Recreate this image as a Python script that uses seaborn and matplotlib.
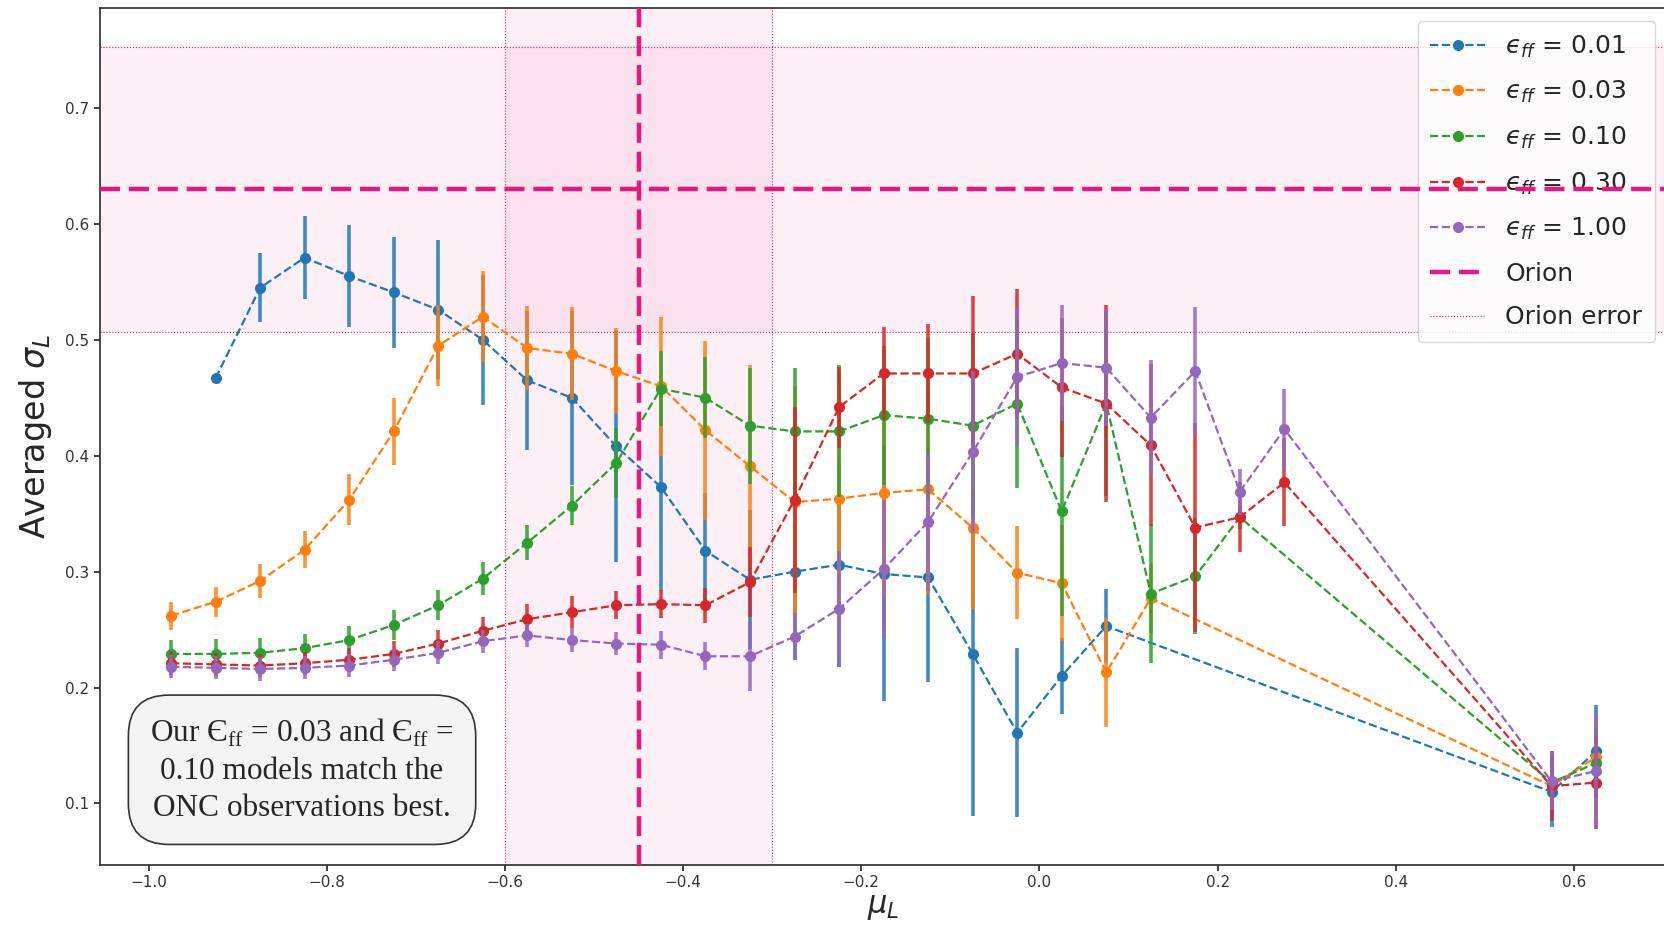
import numpy as np
import pandas as pd
import seaborn as sns
import matplotlib.pyplot as plt

# Binned mu_L centres
mu = [-0.975, -0.925, -0.875, -0.825, -0.775, -0.725, -0.675, -0.625, -0.575, -0.525,
      -0.475, -0.425, -0.375, -0.325, -0.275, -0.225, -0.175, -0.125, -0.075, -0.025,
      0.025, 0.075, 0.125, 0.175, 0.225, 0.275, 0.575, 0.625]
nan = np.nan

# Averaged sigma_L per efficiency
s001 = [nan, 0.467, 0.545, 0.571, 0.555, 0.541, 0.526, 0.500, 0.465, 0.450,
        0.408, 0.373, 0.318, 0.293, 0.300, 0.306, 0.298, 0.295, 0.229, 0.161,
        0.210, 0.253, nan, nan, nan, nan, 0.110, 0.145]
e001 = [nan, 0.0, 0.030, 0.036, 0.044, 0.048, 0.060, 0.056, 0.060, 0.075,
        0.100, 0.090, 0.050, 0.060, 0.076, 0.088, 0.110, 0.090, 0.140, 0.073,
        0.033, 0.032, nan, nan, nan, nan, 0.030, 0.040]
s003 = [0.262, 0.274, 0.292, 0.319, 0.362, 0.421, 0.495, 0.520, 0.493, 0.488,
        0.473, 0.460, 0.422, 0.391, 0.360, 0.363, 0.368, 0.371, 0.338, 0.299,
        0.290, 0.213, 0.277, nan, nan, nan, 0.115, 0.140]
e003 = [0.012, 0.013, 0.015, 0.016, 0.022, 0.029, 0.035, 0.039, 0.036, 0.040,
        0.037, 0.060, 0.077, 0.087, 0.100, 0.110, 0.090, 0.090, 0.070, 0.040,
        0.050, 0.047, 0.030, nan, nan, nan, 0.020, 0.030]
s010 = [0.229, 0.229, 0.230, 0.234, 0.241, 0.254, 0.271, 0.294, 0.325, 0.357,
        0.394, 0.458, 0.450, 0.426, 0.421, 0.421, 0.435, 0.432, 0.426, 0.445,
        0.352, 0.445, 0.281, 0.296, 0.347, nan, 0.118, 0.135]
e010 = [0.012, 0.013, 0.013, 0.012, 0.012, 0.013, 0.013, 0.014, 0.015, 0.017,
        0.030, 0.032, 0.035, 0.050, 0.055, 0.057, 0.060, 0.070, 0.080, 0.073,
        0.090, 0.080, 0.060, 0.050, 0.010, nan, 0.020, 0.030]
s030 = [0.221, 0.220, 0.219, 0.221, 0.224, 0.229, 0.238, 0.249, 0.259, 0.265,
        0.271, 0.272, 0.271, 0.291, 0.362, 0.442, 0.471, 0.471, 0.471, 0.488,
        0.459, 0.445, 0.409, 0.338, 0.347, 0.377, 0.115, 0.118]
e030 = [0.010, 0.010, 0.010, 0.010, 0.010, 0.011, 0.012, 0.012, 0.013, 0.014,
        0.012, 0.012, 0.015, 0.030, 0.080, 0.035, 0.040, 0.043, 0.067, 0.056,
        0.060, 0.085, 0.070, 0.090, 0.030, 0.038, 0.030, 0.040]
s100 = [0.218, 0.217, 0.216, 0.217, 0.219, 0.224, 0.230, 0.240, 0.245, 0.241,
        0.238, 0.237, 0.227, 0.227, 0.244, 0.268, 0.302, 0.343, 0.403, 0.468,
        0.480, 0.476, 0.433, 0.473, 0.369, 0.423, 0.119, 0.128]
e100 = [0.010, 0.010, 0.010, 0.010, 0.010, 0.010, 0.010, 0.010, 0.010, 0.010,
        0.010, 0.012, 0.012, 0.030, 0.020, 0.050, 0.060, 0.060, 0.070, 0.060,
        0.050, 0.050, 0.050, 0.055, 0.020, 0.035, 0.025, 0.050]

labels = ["0.01", "0.03", "0.10", "0.30", "1.00"]
series = [s001, s003, s010, s030, s100]
errors = [e001, e003, e010, e030, e100]

# Orion observation
orion_mu, orion_mu_err = -0.45, 0.15
orion_sig, orion_sig_err = 0.63, 0.123

rows = []
for lab, s, e in zip(labels, series, errors):
    for m, v, d in zip(mu, s, e):
        if not np.isnan(v):
            rows.append({"mu": m, "sigma": v, "err": d, "eff": "$\u03f5_{ff}$ = " + lab})
df = pd.DataFrame(rows)

sns.set_theme(style="ticks")
plt.rcParams["font.family"] = ["DejaVu Sans"]
pal = sns.color_palette("tab10", 5)
pink = "#e8177f"

fig = plt.figure(figsize=(16.64, 9.34), dpi=100)
ax = fig.add_axes([0.06, 0.074, 0.942, 0.917])

ax.axhspan(orion_sig - orion_sig_err, orion_sig + orion_sig_err, color=pink, alpha=0.065, lw=0)
ax.axvspan(orion_mu - orion_mu_err, orion_mu + orion_mu_err, color=pink, alpha=0.065, lw=0)

for i, (name, g) in enumerate(df.groupby("eff", sort=False)):
    ax.errorbar(g["mu"], g["sigma"], yerr=g["err"], fmt="none", ecolor=pal[i],
                elinewidth=2.6, alpha=0.85, zorder=2 + i)
    sns.lineplot(data=g, x="mu", y="sigma", ax=ax, color=pal[i], linestyle="--",
                 marker="o", markersize=8, markeredgewidth=0, lw=1.6, label=name,
                 zorder=2.5 + i, sort=False)

ax.axhline(orion_sig, color=pink, ls="--", lw=3.2, dashes=(4.5, 2), label="Orion", zorder=8)
ax.axvline(orion_mu, color=pink, ls="--", lw=3.2, dashes=(4.5, 2), zorder=8)
for yy in [orion_sig - orion_sig_err, orion_sig + orion_sig_err]:
    ax.axhline(yy, color=pink, ls=":", lw=0.8, zorder=1)
for xx in [orion_mu - orion_mu_err, orion_mu + orion_mu_err]:
    ax.axvline(xx, color=pink, ls=":", lw=0.8, zorder=1)
ax.plot([], [], color=pink, ls=":", lw=0.8, label="Orion error")

ax.set_xlim(-1.055, 0.705)
ax.set_ylim(0.047, 0.786)
ax.set_xticks([-1.0, -0.8, -0.6, -0.4, -0.2, 0.0, 0.2, 0.4, 0.6])
ax.set_yticks([0.1, 0.2, 0.3, 0.4, 0.5, 0.6, 0.7])
ax.tick_params(labelsize=11, length=4, labelcolor="#333333")
ax.set_xlabel(r"$\mu_L$", fontsize=22, labelpad=2)
ax.set_ylabel(r"Averaged $\sigma_L$", fontsize=24, labelpad=8)
for sp in ax.spines.values():
    sp.set_color("#333333")

leg = ax.legend(loc="upper right", fontsize=18, frameon=True, framealpha=0.8,
                handlelength=2.2, borderpad=0.5, labelspacing=0.78)

ax.text(0.129, 0.111, "Our Є$_{\\mathregular{ff}}$ = 0.03 and Є$_{\\mathregular{ff}}$ =\n"
        "0.10 models match the\nONC observations best.",
        transform=ax.transAxes, ha="center", va="center", fontsize=22.5,
        family=["Liberation Serif", "DejaVu Serif"], linespacing=1.35, zorder=10,
        bbox=dict(boxstyle="round,pad=0.7,rounding_size=1.3", fc="#f4f4f4", ec="#333333", lw=1.2))

fig.savefig("out.png", dpi=100)
